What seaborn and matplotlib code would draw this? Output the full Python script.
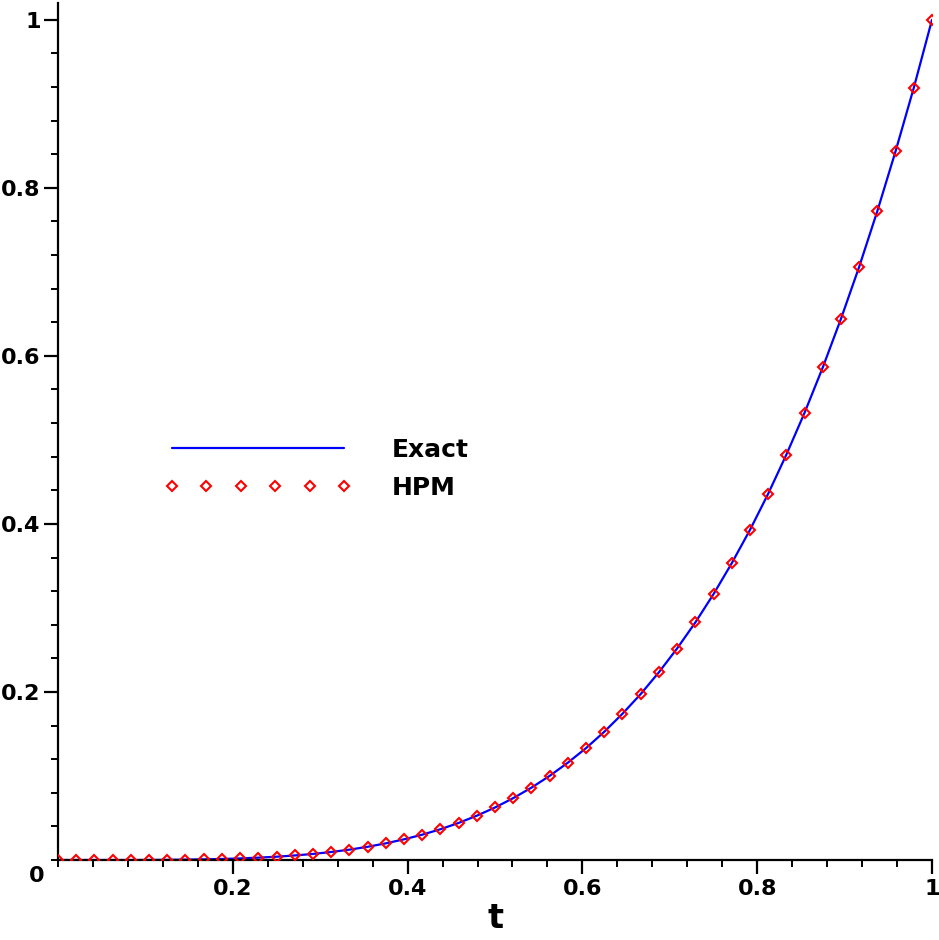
import numpy as np
import pandas as pd
import matplotlib
matplotlib.use("Agg")
import matplotlib.pyplot as plt
from matplotlib.lines import Line2D
from matplotlib.ticker import MultipleLocator, FixedLocator
import seaborn as sns

t_values = [0.0, 0.0208, 0.0417, 0.0625, 0.0833, 0.1042, 0.125, 0.1458, 0.1667,
            0.1875, 0.2083, 0.2292, 0.25, 0.2708, 0.2917, 0.3125, 0.3333, 0.3542,
            0.375, 0.3958, 0.4167, 0.4375, 0.4583, 0.4792, 0.5, 0.5208, 0.5417,
            0.5625, 0.5833, 0.6042, 0.625, 0.6458, 0.6667, 0.6875, 0.7083, 0.7292,
            0.75, 0.7708, 0.7917, 0.8125, 0.8333, 0.8542, 0.875, 0.8958, 0.9167,
            0.9375, 0.9583, 0.9792, 1.0]
exact_values = [0.0, 0.0, 0.0, 0.0, 0.0, 0.0001, 0.0002, 0.0005, 0.0008,
                0.0012, 0.0019, 0.0028, 0.0039, 0.0054, 0.0072, 0.0095, 0.0123, 0.0157,
                0.0198, 0.0246, 0.0301, 0.0366, 0.0441, 0.0527, 0.0625, 0.0736, 0.0861,
                0.1001, 0.1158, 0.1332, 0.1526, 0.1740, 0.1975, 0.2234, 0.2517, 0.2827,
                0.3164, 0.3531, 0.3928, 0.4358, 0.4823, 0.5323, 0.5862, 0.6440, 0.7061,
                0.7725, 0.8435, 0.9192, 1.0]
hpm_values = list(exact_values)
series_labels = ["Exact", "HPM"]
x_tick_values = [0.2, 0.4, 0.6, 0.8, 1.0]
x_tick_labels = ["0.2", "0.4", "0.6", "0.8", "1"]
y_tick_values = [0.2, 0.4, 0.6, 0.8, 1.0]
y_tick_labels = ["0.2", "0.4", "0.6", "0.8", "1"]
x_label = "t"
origin_label = "0"

df_exact = pd.DataFrame({"t": t_values, "y": exact_values})
df_hpm = pd.DataFrame({"t": t_values, "y": hpm_values})

sns.set_style("white")
plt.rcParams["font.family"] = ["DejaVu Sans"]
plt.rcParams["text.color"] = "black"
plt.rcParams["xtick.color"] = "black"
plt.rcParams["ytick.color"] = "black"
plt.rcParams["axes.labelcolor"] = "black"

fig = plt.figure(figsize=(9.39, 9.40), dpi=100)
W, H = 939, 940
ax = fig.add_axes([58 / W, 1 - 860 / H, (932 - 58) / W, (860 - 3) / H])

sns.lineplot(data=df_exact, x="t", y="y", ax=ax, color="#0000ff", lw=1.6,
             sort=False, zorder=2)
ax.plot(df_hpm["t"], df_hpm["y"], ls="none", marker="D", ms=5.5,
        mfc="none", mec="#ff0000", mew=1.5, zorder=3)

ax.set_xlim(0, 1)
ax.set_ylim(0, 1.02)

for s in ["top", "right"]:
    ax.spines[s].set_visible(False)
for s in ["left", "bottom"]:
    ax.spines[s].set_color("black")
    ax.spines[s].set_linewidth(1.6)

ax.xaxis.set_major_locator(FixedLocator(x_tick_values))
ax.yaxis.set_major_locator(FixedLocator(y_tick_values))
ax.set_xticklabels(x_tick_labels)
ax.set_yticklabels(y_tick_labels)
ax.xaxis.set_minor_locator(MultipleLocator(0.04))
ax.yaxis.set_minor_locator(MultipleLocator(0.04))
ax.tick_params(which="major", direction="out", length=10, width=1.6,
               labelsize=16, pad=4, color="black", labelcolor="black",
               bottom=True, left=True)
ax.tick_params(axis="y", which="major", pad=2.5)
ax.tick_params(which="minor", direction="out", length=5, width=1.4,
               color="black", bottom=True, left=True)
for lab in ax.get_xticklabels() + ax.get_yticklabels():
    lab.set_fontweight("bold")

ax.set_xlabel(x_label, fontsize=24, fontweight="bold", labelpad=2, color="black")
ax.set_ylabel("")
fig.text(44 / W, 1 - 876 / H, origin_label, fontsize=16, fontweight="bold",
         ha="right", va="center", color="black")

handles = [Line2D([], [], color="#0000ff", lw=1.6),
           Line2D([], [], ls="none", marker="D", ms=5.5, mfc="none",
                  mec="#ff0000", mew=1.5)]
leg = ax.legend(handles, series_labels, loc="upper left",
                bbox_to_anchor=(164 / W, 1 - 438 / H), bbox_transform=fig.transFigure,
                frameon=False, numpoints=6, handlelength=7.5, handletextpad=1.6,
                labelspacing=0.55, borderpad=0, borderaxespad=0,
                prop={"size": 18, "weight": "bold"})
for txt in leg.get_texts():
    txt.set_color("black")

fig.savefig("out.png", dpi=100, facecolor="white")
